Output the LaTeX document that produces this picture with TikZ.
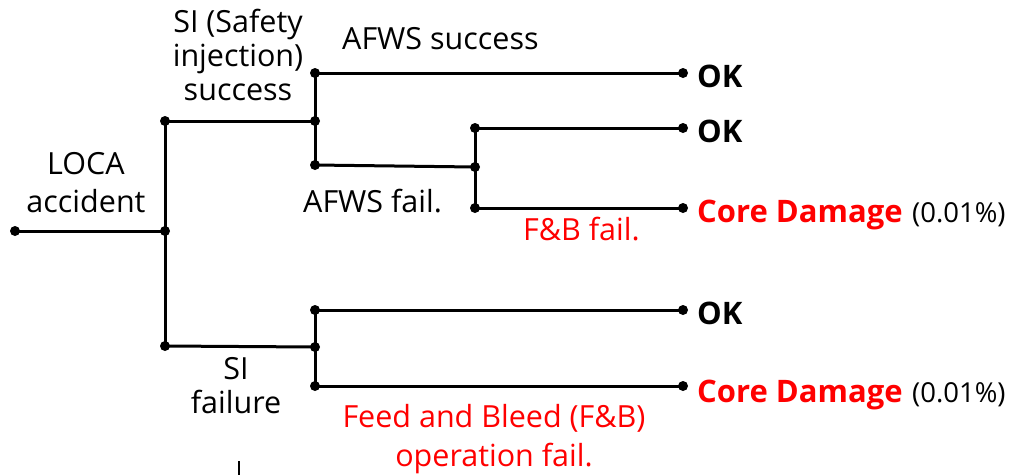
\documentclass[tikz,border=0pt]{standalone}
\usepackage{fontspec}
\setmainfont{Open Sans}
\definecolor{cdred}{RGB}{255,0,0}
\tikzset{
  ln/.style={line width=3pt,black},
  dot/.style={circle,fill=black,inner sep=0pt,minimum size=10pt},
  lbl/.style={inner sep=0pt,font=\fontsize{30.5}{36}\selectfont},
  res/.style={inner sep=0pt,anchor=base west,font=\fontsize{31}{36}\selectfont\bfseries},
  pct/.style={inner sep=0pt,anchor=base west,font=\fontsize{27.5}{32}\selectfont},
}
\begin{document}
\begin{tikzpicture}[x=1pt,y=-1pt]
\useasboundingbox (0,0) rectangle (1009,475);
% junction nodes
\node[dot] (s)   at (15,231) {};
\node[dot] (a)   at (165,231) {};
\node[dot] (a1)  at (165,121) {};
\node[dot] (a2)  at (165,346) {};
\node[dot] (b)   at (315,121) {};
\node[dot] (b1)  at (315,73) {};
\node[dot] (b2)  at (315,165) {};
\node[dot] (c)   at (475,167) {};
\node[dot] (c1)  at (475,128) {};
\node[dot] (c2)  at (475,208) {};
\node[dot] (d)   at (315,347) {};
\node[dot] (d1)  at (315,310) {};
\node[dot] (d2)  at (315,386) {};
\node[dot] (e1)  at (683,73) {};
\node[dot] (e2)  at (683,128) {};
\node[dot] (e3)  at (683,208) {};
\node[dot] (e4)  at (683,310) {};
\node[dot] (e5)  at (683,386) {};
% connectors
\draw[ln] (s.center) -- (a.center);
\draw[ln] (a1.center) -- (a2.center);
\draw[ln] (a1.center) -- (b.center);
\draw[ln] (b1.center) -- (b2.center);
\draw[ln] (b1.center) -- (e1.center);
\draw[ln] (b2.center) -- (c.center);
\draw[ln] (c1.center) -- (c2.center);
\draw[ln] (c1.center) -- (e2.center);
\draw[ln] (c2.center) -- (e3.center);
\draw[ln] (a2.center) -- (d.center);
\draw[ln] (d1.center) -- (d2.center);
\draw[ln] (d1.center) -- (e4.center);
\draw[ln] (d2.center) -- (e5.center);
% stray tick at bottom
\coordinate (t1) at (239,461);
\coordinate (t2) at (239,475);
\draw[line width=2.6pt] (t1) -- (t2);
% labels
\node[lbl,anchor=base] (loca1) at (86,174) {LOCA};
\node[lbl,anchor=base] (loca2) at (86,212) {accident};
\node[lbl,anchor=base] (si1) at (238,32) {SI (Safety};
\node[lbl,anchor=base] (si2) at (238,66) {injection)};
\node[lbl,anchor=base] (si3) at (238,100) {success};
\node[lbl,anchor=base west] (afs) at (342,49) {AFWS success};
\node[lbl,anchor=base west] (aff) at (303,212) {AFWS fail.};
\node[lbl,anchor=base west,text=cdred] (fbf) at (523,240) {F\&B fail.};
\node[lbl,anchor=base] (sif1) at (236,379) {SI};
\node[lbl,anchor=base] (sif2) at (236,413) {failure};
\node[lbl,anchor=base,text=cdred] (fb1) at (494,427) {Feed and Bleed (F\&B)};
\node[lbl,anchor=base,text=cdred] (fb2) at (494,466) {operation fail.};
% results
\node[res] (ok1) at (697,87) {OK};
\node[res] (ok2) at (697,142) {OK};
\node[res,text=cdred] (cd1) at (697,222) {Core Damage};
\node[pct] (p1) at (912,222) {(0.01\%)};
\node[res] (ok3) at (697,324) {OK};
\node[res,text=cdred] (cd2) at (697,402) {Core Damage};
\node[pct] (p2) at (912,402) {(0.01\%)};
\end{tikzpicture}
\end{document}
